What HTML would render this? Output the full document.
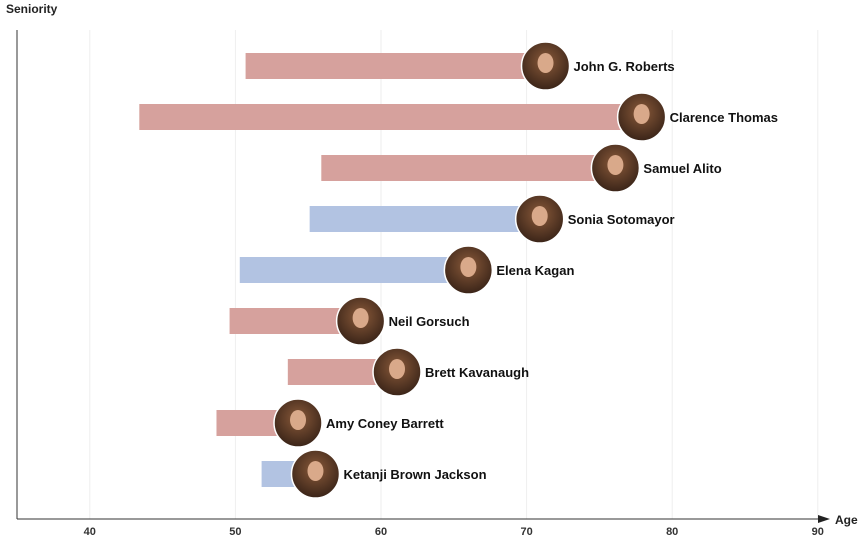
<!DOCTYPE html>
<html><head><meta charset="utf-8"><style>
body{margin:0;background:#fff;font-family:"Liberation Sans",sans-serif}
svg text{font-family:"Liberation Sans",sans-serif}
</style></head><body>
<svg id="c" width="864" height="540">
<defs><radialGradient id="g" cx="50%" cy="40%" r="60%"><stop offset="0" stop-color="#8a5a3a"/><stop offset="1" stop-color="#3a2418"/></radialGradient></defs>
</svg>
<script>
const names=["John G. Roberts","Clarence Thomas","Samuel Alito","Sonia Sotomayor","Elena Kagan","Neil Gorsuch","Brett Kavanaugh","Amy Coney Barrett","Ketanji Brown Jackson"];
const startAges=[50.7,43.4,55.9,55.1,50.3,49.6,53.6,48.7,51.8];
const currentAges=[71.3,77.9,76.1,70.9,66.0,58.6,61.1,54.3,55.5];
const parties=["R","R","R","D","D","R","R","R","D"];
const ticks=[40,50,60,70,80,90];
const svg=document.getElementById('c');const NS="http://www.w3.org/2000/svg";
const x=v=>17+(v-35)*14.56;
const y=i=>66+i*51;
function mk(t,a,p){const e=document.createElementNS(NS,t);for(const k in a)e.setAttribute(k,a[k]);(p||svg).appendChild(e);return e;}
ticks.forEach(t=>{
 const g=mk('line',{x1:x(t),x2:x(t),y1:30,y2:519,stroke:'#eee'});
 
 const l=mk('text',{x:x(t),y:535,'text-anchor':'middle','font-size':11,'font-weight':'bold',fill:'#333'});l.textContent=t;
 
});
const ax=mk('line',{x1:17,x2:17,y1:30,y2:519,stroke:'#333'});
const xa=mk('line',{x1:17,x2:822,y1:519,y2:519,stroke:'#333'});
const ar=mk('path',{d:'M818 515 L830 519 L818 523 Z',fill:'#222'});
const yt=mk('text',{x:6,y:13,'font-size':12,'font-weight':'bold',fill:'#222'});yt.textContent='Seniority';
const xt=mk('text',{x:835,y:524,'font-size':12,'font-weight':'bold',fill:'#222'});xt.textContent='Age';
names.forEach((n,i)=>{
 const b=mk('rect',{x:x(startAges[i]),y:y(i)-13,width:x(currentAges[i])-x(startAges[i]),height:26,fill:parties[i]=='R'?'#d6a19d':'#b2c3e2'});
 
 const c=mk('circle',{cx:x(currentAges[i]),cy:y(i),r:24,fill:'url(#g)',stroke:'#fff','stroke-width':1.5});
 
 const f=mk('ellipse',{cx:x(currentAges[i]),cy:y(i)-3,rx:8,ry:10,fill:'#d9a98a'});
 
 const t=mk('text',{x:x(currentAges[i])+28,y:y(i)+5,'font-size':13,'font-weight':'bold',fill:'#111'});t.textContent=n;
 
});
</script></body></html>
